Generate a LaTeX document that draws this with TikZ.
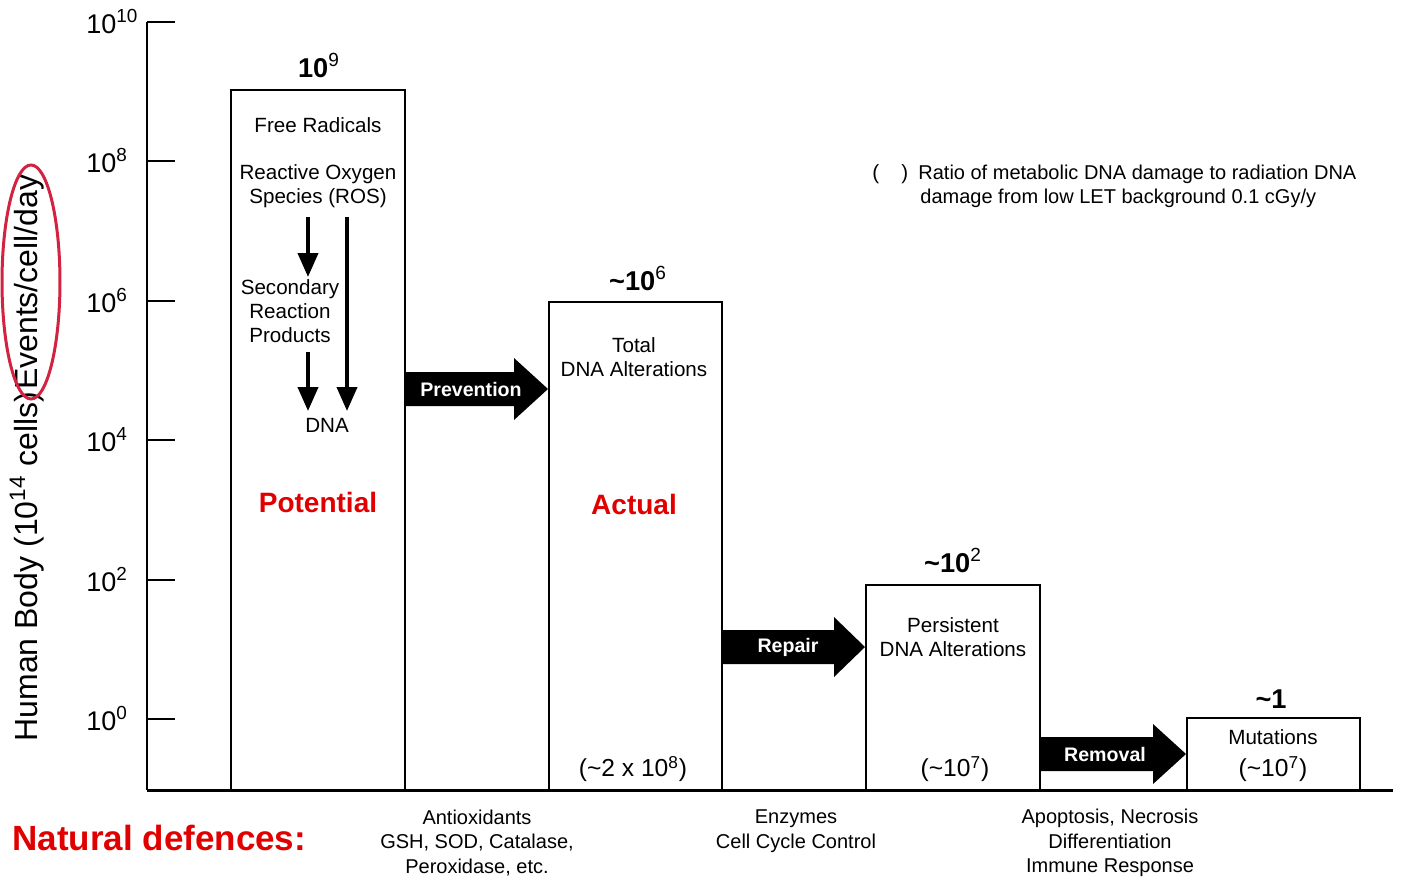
\documentclass[tikz,border=0pt]{standalone}
\usepackage{fontspec}
\setmainfont{Liberation Sans}
\usetikzlibrary{arrows.meta,fit}
\definecolor{txtred}{RGB}{225,0,0}
\definecolor{ellred}{RGB}{210,35,65}
\newcommand{\tld}{\textasciitilde}
\newcommand{\hsup}[1]{\textsuperscript{\mdseries #1}}
\begin{document}
\begin{tikzpicture}[x=0.5pt,y=-0.5pt,
  box/.style={draw,line width=1pt,inner sep=0pt},
  lbl/.style={font=\fontsize{10.3}{12}\selectfont,align=center,inner sep=0pt},
  val/.style={font=\fontsize{12.3}{14}\selectfont,inner sep=0pt},
  head/.style={font=\fontsize{13.6}{15}\selectfont\bfseries,inner sep=0pt,anchor=base},
  ticklbl/.style={font=\fontsize{13.5}{15}\selectfont,inner sep=0pt,anchor=base west},
  big/.style={font=\fontsize{14}{16}\selectfont\bfseries,text=txtred,inner sep=0pt},
  fat/.style={fill=black},
  fattxt/.style={font=\fontsize{9.8}{12}\selectfont\bfseries,text=white,inner sep=0pt},
  inarr/.style={line width=2pt,-{Triangle[width=10pt,length=12pt]}},
  axis/.style={line width=1pt}]
\useasboundingbox (0,0) rectangle (1403,889);
% axis
\draw[axis] (147,22) -- (147,790);
\foreach \yy/\ee in {22/10,161/8,301/6,440/4,580/2,719/0}{
  \draw[axis] (147,\yy) -- (175,\yy);
  \node[ticklbl] at (86,\yy+11) {10\textsuperscript{\ee}};
}
\draw[line width=1.5pt] (147,790) -- (1393,790);
% y label
\node[rotate=90,font=\fontsize{16}{18}\selectfont,inner sep=0pt] (ylab) at (27,458)
  {Human Body (10\textsuperscript{14} cells)\kern1pt Events/cell/day};
\draw[ellred,line width=1.5pt] (31,282) ellipse [x radius=29,y radius=117];
% boxes
\node[box,fit={(231,90) (405,790)}] (b1) {};
\node[box,fit={(549,302) (722,790)}] (b2) {};
\node[box,fit={(866,585) (1040,790)}] (b3) {};
\node[box,fit={(1187,718) (1360,790)}] (b4) {};
% headings
\node[head] (h1) at (319,77) {10\hsup{9}};
\node[head] (h2) at (638,290) {\tld 10\hsup{6}};
\node[head] (h3) at (953,572) {\tld 10\hsup{2}};
\node[head] (h4) at (1271,708) {\tld 1};
% box 1 content
\node[lbl] (fr) at (318,125) {Free Radicals};
\node[lbl] (ros) at (318,186) {Reactive Oxygen\\Species (ROS)};
\node[lbl] (sec) at (290,311) {Secondary\\Reaction\\Products};
\node[lbl] (dna) at (327,425) {DNA};
\coordinate (a1s) at (308,217); \coordinate (a1e) at (308,277);
\coordinate (a2s) at (308,352); \coordinate (a2e) at (308,411);
\coordinate (a3s) at (347,217); \coordinate (a3e) at (347,411);
\draw[inarr] (a1s) -- (a1e);
\draw[inarr] (a2s) -- (a2e);
\draw[inarr] (a3s) -- (a3e);
\node[big] (pot) at (318,502) {Potential};
% box 2 content
\node[lbl] (tot) at (634,357) {Total\\DNA Alterations};
\node[big] (act) at (634,504) {Actual};
\node[val] (v2) at (633,769) {(\tld 2 x 10\textsuperscript{8})};
% box 3 content
\node[lbl] (pers) at (953,637) {Persistent\\DNA Alterations};
\node[val] (v3) at (955,769) {(\tld 10\textsuperscript{7})};
% box 4 content
\node[lbl] (mut) at (1273,737) {Mutations};
\node[val] (v4) at (1273,769) {(\tld 10\textsuperscript{7})};
% fat arrows
\fill[fat] (b1.east |- 0,372) -- (514,372) -- (514,358) -- (b2.west |- 0,389) -- (514,420) -- (514,406) -- (b1.east |- 0,406) -- cycle;
\node[fattxt] (prev) at (471,389) {Prevention};
\fill[fat] (b2.east |- 0,630) -- (834,630) -- (834,617) -- (b3.west |- 0,647) -- (834,677) -- (834,664) -- (b2.east |- 0,664) -- cycle;
\node[fattxt] (rep) at (788,647) {Repair};
\fill[fat] (b3.east |- 0,737) -- (1153,737) -- (1153,724) -- (b4.west |- 0,754) -- (1153,784) -- (1153,771) -- (b3.east |- 0,771) -- cycle;
\node[fattxt] (rem) at (1105,754) {Removal};
% legend
\node[lbl,anchor=west] (lp) at (872,174) {(\hspace{11pt})};
\node[lbl,anchor=west,font=\fontsize{10}{12}\selectfont] (leg1) at (918,174) {Ratio of metabolic DNA damage to radiation DNA};
\node[lbl,anchor=west,font=\fontsize{10}{12}\selectfont] (leg2) at (920,198) {damage from low LET background 0.1 cGy/y};
% natural defences
\node[font=\fontsize{17.5}{19}\selectfont\bfseries,text=txtred,inner sep=0pt,anchor=west] (nd) at (12,838) {Natural defences:};
\node[lbl,font=\fontsize{10}{12.3}\selectfont] (d1) at (477,843) {Antioxidants\\GSH, SOD, Catalase,\\Peroxidase, etc.};
\node[lbl,font=\fontsize{10}{12.3}\selectfont] (d2) at (796,831) {Enzymes\\Cell Cycle Control};
\node[lbl,font=\fontsize{10}{12.3}\selectfont] (d3) at (1110,843) {Apoptosis, Necrosis\\Differentiation\\Immune Response};
\end{tikzpicture}
\end{document}
